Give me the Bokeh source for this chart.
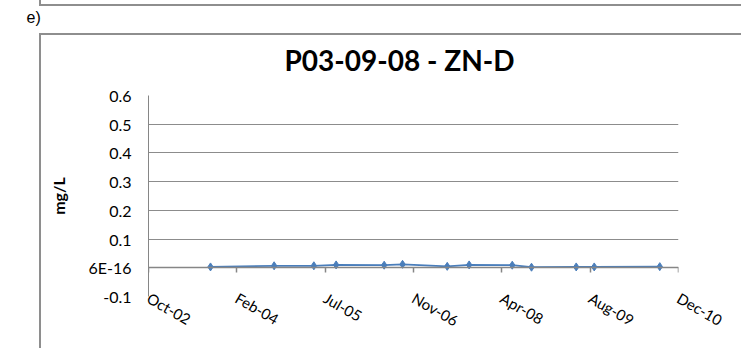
import numpy as np
import pandas as pd
from bokeh.plotting import figure
from bokeh.models import (Range1d, FixedTicker, LinearAxis, Title,
                          CustomJSTickFormatter, ColumnDataSource)
from bokeh.embed import file_html
from bokeh.resources import INLINE

# ---------------- data ----------------
title_text = "P03-09-08 - ZN-D"
panel_tag = "e)"
y_axis_title = "mg/L"

sample_dates = ["2003-09-27", "2004-09-21", "2005-05-04", "2005-09-07", "2006-06-06",
                "2006-09-18", "2007-05-29", "2007-09-30", "2008-05-31", "2008-09-17",
                "2009-05-28", "2009-09-07", "2010-09-13"]
zn_values = [0.003, 0.007, 0.007, 0.010, 0.009, 0.012, 0.005, 0.010, 0.009, 0.002,
             0.003, 0.003, 0.004]

x_tick_dates = ["2002-10-11", "2004-02-23", "2005-07-07", "2006-11-19",
                "2008-04-02", "2009-08-15", "2010-12-28"]
x_tick_labels = ["Oct-02", "Feb-04", "Jul-05", "Nov-06", "Apr-08", "Aug-09", "Dec-10"]

y_ticks = [-0.1, 0.0, 0.1, 0.2, 0.3, 0.4, 0.5, 0.6]
y_tick_labels = ["-0.1", "6E-16", "0.1", "0.2", "0.3", "0.4", "0.5", "0.6"]


def to_ms(ds):
    idx = (pd.to_datetime(ds) - pd.Timestamp("1970-01-01")) // pd.Timedelta(milliseconds=1)
    return [float(v) for v in idx]


x_ms = to_ms(sample_dates)
xt_ms = to_ms(x_tick_dates)

# ---------------- styles ----------------
FONT = "Lato"
GRID = "#8C8C8C"
AXIS = "#868686"
FRAME = "#8E8E8E"
SERIES = "#4A7EBB"

W, H = 741, 348
p = figure(width=W, height=H, x_axis_type="datetime", output_backend="svg",
           toolbar_location=None,
           x_range=Range1d(xt_ms[0], xt_ms[-1]),
           y_range=Range1d(y_ticks[0], y_ticks[-1]),
           min_border_left=148, min_border_right=63, min_border_top=95,
           min_border_bottom=52)
p.title = None
p.outline_line_color = None
p.background_fill_color = "white"
p.border_fill_color = None

# outer chart-box lines drawn as the page background of the figure
g = f"linear-gradient({FRAME}, {FRAME})"
p.styles = {
    "background": (
        f"{g} 39px 33px / 2px 400px no-repeat, "
        f"{g} 39px 33px / 720px 2px no-repeat, "
        f"{g} 39px 4px / 720px 2px no-repeat, "
        f"{g} 39px 0px / 2px 6px no-repeat, white"
    )
}

# x axis (labels only, at the bottom)
xa = p.below[0]
xa.ticker = FixedTicker(ticks=xt_ms)
xa.major_label_overrides = dict(zip(xt_ms, x_tick_labels))
xa.axis_line_color = None
xa.major_tick_line_color = None
xa.major_tick_out = 0
xa.major_tick_in = 0
xa.minor_tick_line_color = None
xa.minor_tick_out = 0
xa.major_label_orientation = -np.pi / 6
xa.major_label_standoff = 0
xa.major_label_text_font = FONT
xa.major_label_text_font_size = "15px"
xa.major_label_text_color = "black"

# y axis
ya = p.left[0]
ya.ticker = FixedTicker(ticks=y_ticks)
ya.major_label_overrides = dict(zip(y_ticks, y_tick_labels))
ya.axis_line_color = AXIS
ya.axis_line_width = 1
ya.major_tick_line_color = None
ya.major_tick_out = 0
ya.major_tick_in = 0
ya.minor_tick_line_color = None
ya.minor_tick_out = 0
ya.major_label_standoff = 17
ya.major_label_text_font = FONT
ya.major_label_text_font_size = "16px"
ya.major_label_text_color = "black"
ya.axis_label = y_axis_title
ya.axis_label_text_font = FONT
ya.axis_label_text_font_style = "bold"
ya.axis_label_text_font_size = "16px"
ya.axis_label_text_color = "black"
ya.axis_label_standoff = 17

p.xgrid.visible = False
p.ygrid.ticker = FixedTicker(ticks=y_ticks)
p.ygrid.grid_line_color = GRID
p.ygrid.grid_line_width = 1

# horizontal axis line crossing at zero, with tick marks pointing down
za = LinearAxis(fixed_location=0, ticker=FixedTicker(ticks=xt_ms),
                formatter=CustomJSTickFormatter(code="return ''"),
                major_tick_in=5, major_tick_out=0, minor_tick_line_color=None,
                minor_tick_in=0, minor_tick_out=0,
                axis_line_color=AXIS, axis_line_width=1.5,
                major_tick_line_color=AXIS, major_tick_line_width=1.5,
                major_label_standoff=0, major_label_text_font_size="1px")
p.add_layout(za, "above")

# chart title
p.add_layout(Title(text=title_text, align="left", offset=136,
                   text_font=FONT, text_font_style="bold",
                   text_font_size="28px", text_color="black", standoff=37), "above")

# panel tag
p.add_layout(Title(text=panel_tag, align="left", offset=-122,
                   text_font="Liberation Sans", text_font_style="normal",
                   text_font_size="16px", text_color="black", standoff=-6), "above")

src = ColumnDataSource(dict(x=x_ms, y=zn_values))
p.line("x", "y", source=src, line_color=SERIES, line_width=1.75)
p.scatter("x", "y", source=src, marker="diamond", size=8,
          fill_color=SERIES, line_color=SERIES)

open("out.html", "w").write(file_html(p, INLINE))
